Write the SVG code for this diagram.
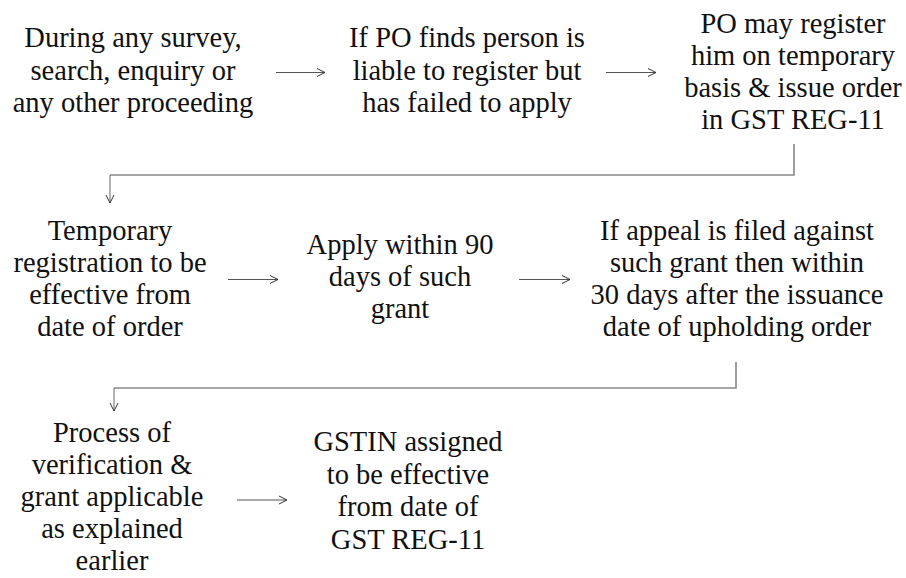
<svg xmlns="http://www.w3.org/2000/svg" width="906" height="578" viewBox="0 0 906 578">
  <defs>
    <marker id="chev" viewBox="0 0 10 10" refX="10" refY="5" markerWidth="10" markerHeight="10" markerUnits="userSpaceOnUse" orient="auto">
      <path d="M2,1 L10,5 L2,9" fill="none" stroke="#333" stroke-width="1"/>
    </marker>
  </defs>
  <style>
    text { font-family: 'Liberation Serif', 'DejaVu Serif', Times, serif; font-size: 28.5px; fill: #111; text-anchor: middle; }
    .arrow { fill: none; stroke: #555; stroke-width: 1; }
    .elbow { fill: none; stroke: #888; stroke-width: 1.6; }
    .drop { fill: none; stroke: #666; stroke-width: 1; }
  </style>
  <rect width="906" height="578" fill="#fff"/>

  <g font-family="Liberation Serif, serif">
  <!-- step nodes -->
  <g id="n1"><text><tspan x="133" y="47">During any survey,</tspan><tspan x="133" y="79.5">search, enquiry or</tspan><tspan x="133" y="112">any other proceeding</tspan></text></g>
  <g id="n2"><text><tspan x="467" y="47">If PO finds person is</tspan><tspan x="467" y="79.5">liable to register but</tspan><tspan x="467" y="112">has failed to apply</tspan></text></g>
  <g id="n3"><text><tspan x="793" y="33">PO may register</tspan><tspan x="793" y="65">him on temporary</tspan><tspan x="793" y="97">basis &amp; issue order</tspan><tspan x="793" y="129">in GST REG-11</tspan></text></g>

  <g id="n4"><text><tspan x="110" y="240">Temporary</tspan><tspan x="110" y="272">registration to be</tspan><tspan x="110" y="304">effective from</tspan><tspan x="110" y="336">date of order</tspan></text></g>
  <g id="n5"><text><tspan x="400" y="254">Apply within 90</tspan><tspan x="400" y="286">days of such</tspan><tspan x="400" y="318">grant</tspan></text></g>
  <g id="n6"><text><tspan x="737" y="240">If appeal is filed against</tspan><tspan x="737" y="272">such grant then within</tspan><tspan x="737" y="304">30 days after the issuance</tspan><tspan x="737" y="336">date of upholding order</tspan></text></g>

  <g id="n7"><text><tspan x="112" y="442">Process of</tspan><tspan x="112" y="474">verification &amp;</tspan><tspan x="112" y="506">grant applicable</tspan><tspan x="112" y="538">as explained</tspan><tspan x="112" y="570">earlier</tspan></text></g>
  <g id="n8"><text><tspan x="408" y="451">GSTIN assigned</tspan><tspan x="408" y="484">to be effective</tspan><tspan x="408" y="516">from date of</tspan><tspan x="408" y="549">GST REG-11</tspan></text></g>
  </g>

  <!-- connectors -->
  <g id="connectors">
    <line class="arrow" x1="276" y1="72.5" x2="325" y2="72.5" marker-end="url(#chev)"/>
    <line class="arrow" x1="606" y1="72.5" x2="656" y2="72.5" marker-end="url(#chev)"/>
    <path class="elbow" d="M794,144 V175 H110"/>
    <line class="drop" x1="110" y1="175" x2="110" y2="203" marker-end="url(#chev)"/>

    <line class="arrow" x1="228" y1="279.5" x2="278" y2="279.5" marker-end="url(#chev)"/>
    <line class="arrow" x1="519" y1="279.5" x2="570" y2="279.5" marker-end="url(#chev)"/>
    <path class="elbow" d="M736,362 V388 H114"/>
    <line class="drop" x1="114" y1="388" x2="114" y2="411" marker-end="url(#chev)"/>

    <line class="arrow" x1="237" y1="500" x2="287" y2="500" marker-end="url(#chev)"/>
  </g>
</svg>
